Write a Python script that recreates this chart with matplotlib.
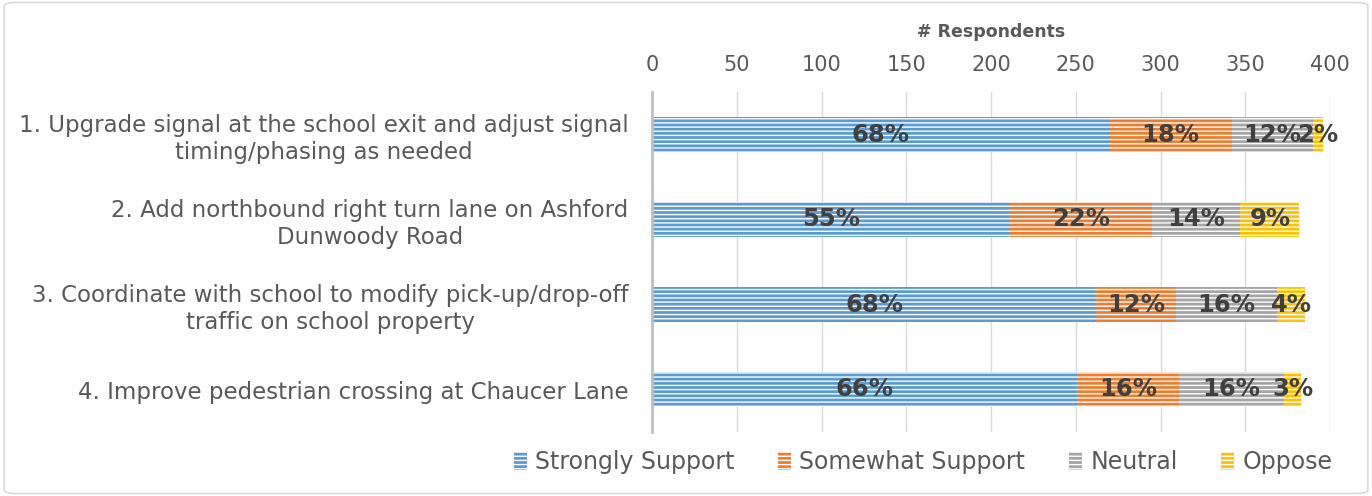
import matplotlib
matplotlib.use("Agg")
import matplotlib.pyplot as plt
from matplotlib.patches import FancyBboxPatch, Patch
import numpy as np

categories = [
    "1. Upgrade signal at the school exit and adjust signal\ntiming/phasing as needed",
    "2. Add northbound right turn lane on Ashford\nDunwoody Road",
    "3. Coordinate with school to modify pick-up/drop-off\ntraffic on school property",
    "4. Improve pedestrian crossing at Chaucer Lane",
]
series_names = ["Strongly Support", "Somewhat Support", "Neutral", "Oppose"]
strongly_support = [270, 211, 262, 251]
somewhat_support = [72, 84, 47, 60]
neutral = [48, 52, 60, 62]
oppose = [6, 35, 16, 10]
x_ticks = [0, 50, 100, 150, 200, 250, 300, 350, 400]
x_label = "# Respondents"

colors = ["#5B9BD5", "#ED7D31", "#A5A5A5", "#FFC000"]
text_color = "#595959"

plt.rcParams["font.family"] = ["DejaVu Sans"]
plt.rcParams["hatch.color"] = "white"
plt.rcParams["hatch.linewidth"] = 1.0

fig = plt.figure(figsize=(13.72, 4.96), dpi=100)
ax = fig.add_axes([652 / 1372, 1 - 432 / 496, (1330 - 652) / 1372, (432 - 92) / 496])

series = [strongly_support, somewhat_support, neutral, oppose]
totals = np.sum(np.array(series), axis=0)
y = np.arange(len(categories))
left = np.zeros(len(categories))
for name, vals, col in zip(series_names, series, colors):
    vals = np.array(vals, dtype=float)
    ax.barh(y, vals, left=left, height=0.41, color=col, edgecolor="white",
            linewidth=0, hatch="----", zorder=3)
    for yi, v, l, t in zip(y, vals, left, totals):
        pct = int(round(v / t * 100))
        ax.text(l + v / 2, yi, f"{pct}%", ha="center", va="center",
                fontsize=17.5, fontweight="bold", color="#404040", zorder=4)
    left += vals

ax.set_xlim(0, 400)
ax.set_ylim(3.5, -0.5)
ax.set_xticks(x_ticks)
ax.xaxis.tick_top()
ax.xaxis.set_label_position("top")
ax.set_xlabel(x_label, fontsize=12.5, fontweight="bold", color=text_color, labelpad=13)
ax.tick_params(axis="x", length=0, labelsize=15, labelcolor=text_color, pad=12)
ax.set_yticks(y)
ax.set_yticklabels(categories, fontsize=16.5, color=text_color, multialignment="center")
ax.tick_params(axis="y", length=0, pad=17)
ax.grid(axis="x", color="#D9D9D9", linewidth=1, zorder=0)
for s in ["top", "right", "bottom"]:
    ax.spines[s].set_visible(False)
ax.spines["left"].set_color("#BFBFBF")
ax.spines["left"].set_linewidth(2)
ax.spines["left"].set_zorder(5)

handles = [Patch(facecolor=c, edgecolor="white", linewidth=0, hatch="----") for c in colors]
fig.legend(handles, series_names, loc="center", bbox_to_anchor=(923 / 1372, 1 - 462 / 496),
           ncol=4, frameon=False, fontsize=17, handlelength=0.55, handleheight=0.8,
           handletextpad=0.35, columnspacing=1.85, labelcolor=text_color)

border = FancyBboxPatch((0.003, 0.005), 0.994, 0.99, boxstyle="round,pad=0,rounding_size=0.008",
                        transform=fig.transFigure, facecolor="none", edgecolor="#D9D9D9",
                        linewidth=1.2)
fig.patches.append(border)

fig.savefig("out.png", dpi=100)
